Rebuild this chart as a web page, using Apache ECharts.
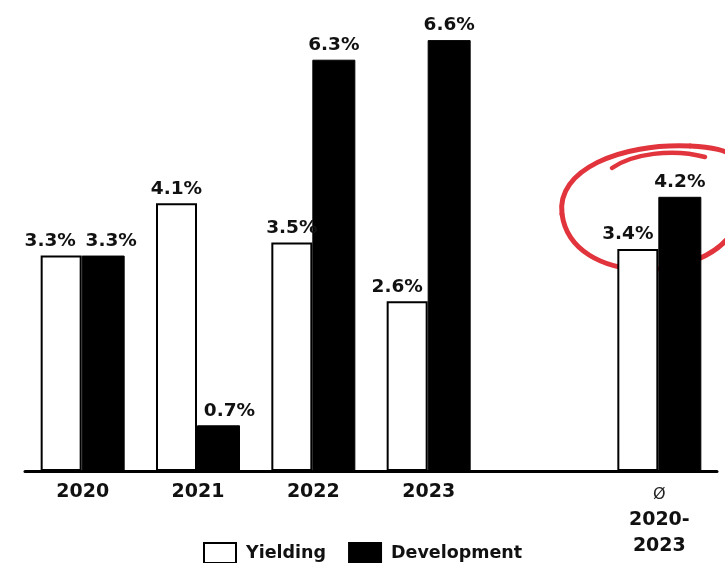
<!DOCTYPE html>
<html>
<head>
<meta charset="utf-8">
<script src="https://cdn.jsdelivr.net/npm/echarts@6/dist/echarts.min.js"></script>
<style>
  html, body { margin: 0; padding: 0; background: #fff; }
  #chart { width: 725px; height: 563px; }
</style>
</head>
<body>
<div id="chart"></div>
<script>
// Yield growth by year, plus the 2020-2023 average
const categories = ['2020', '2021', '2022', '2023', '', 'Ø\n2020-\n2023'];
const yielding = [3.3, 4.1, 3.5, 2.6, '-', 3.4];
const development = [3.3, 0.7, 6.3, 6.6, '-', 4.2];
const seriesNames = ['Yielding', 'Development'];

const FONT = '"DejaVu Sans", sans-serif';

const chart = echarts.init(document.getElementById('chart'), null, { renderer: 'canvas' });

const labelStyle = {
  show: true,
  position: 'top',
  distance: 5,
  formatter: p => p.value.toFixed(1) + '%',
  color: '#111',
  fontFamily: FONT,
  fontSize: 18.5,
  fontWeight: 'bold'
};

// value labels that would crowd a neighbouring bar are nudged sideways
function withNudge(values, nudges) {
  return values.map((v, i) => {
    if (v === '-' || !nudges[i]) return v;
    return { value: v, label: { offset: [nudges[i], 0] } };
  });
}

const loopStyle = { stroke: '#e2343c', lineWidth: 5, fill: null, lineCap: 'round' };

chart.setOption({
  animation: false,
  backgroundColor: '#fff',
  grid: { left: 25, right: 8, top: 14, bottom: 92, containLabel: false },
  legend: {
    left: 203,
    top: 542,
    padding: 0,
    itemWidth: 32,
    itemHeight: 20,
    itemGap: 22,
    icon: 'rect',
    textStyle: {
      color: '#111',
      fontFamily: FONT,
      fontSize: 17.5,
      fontWeight: 'bold',
      padding: [0, 0, 0, 5]
    },
    data: seriesNames
  },
  xAxis: {
    type: 'category',
    data: categories,
    axisLine: { show: true, lineStyle: { color: '#000', width: 3 } },
    axisTick: { show: false },
    axisLabel: {
      interval: 0,
      margin: 12,
      color: '#111',
      fontFamily: FONT,
      fontSize: 19,
      fontWeight: 'bold',
      formatter: v => {
        const lines = v.split('\n');
        if (lines.length > 1) {
          return '{sym|' + lines[0] + '}\n' + lines.slice(1).map(l => '{yr|' + l + '}').join('\n');
        }
        return v;
      },
      rich: {
        sym: { fontFamily: FONT, fontSize: 16, fontWeight: 'normal', color: '#222', lineHeight: 24 },
        yr: { fontFamily: FONT, fontSize: 19, fontWeight: 'bold', color: '#111', lineHeight: 26 }
      }
    }
  },
  yAxis: {
    type: 'value',
    min: 0,
    max: 7,
    show: false,
    splitLine: { show: false }
  },
  series: [
    {
      name: seriesNames[0],
      type: 'bar',
      data: withNudge(yielding, [-11, 0, 0, -10, 0, -10]),
      barWidth: 41,
      barGap: '0%',
      itemStyle: { color: '#fff', borderColor: '#000', borderWidth: 2 },
      label: labelStyle
    },
    {
      name: seriesNames[1],
      type: 'bar',
      data: withNudge(development, [8, 11, 0, 0, 0, 0]),
      barWidth: 43,
      barGap: '0%',
      itemStyle: { color: '#000', borderColor: '#000', borderWidth: 1 },
      label: labelStyle
    }
  ],
  graphic: [
    // hand-drawn red loop highlighting the average
    {
      type: 'group',
      silent: true,
      children: [
        { type: 'bezierCurve', shape: { x1: 736, y1: 226, cpx1: 708, cpy1: 284, cpx2: 572, cpy2: 288, x2: 562, y2: 214 },
          style: loopStyle },
        { type: 'bezierCurve', shape: { x1: 562, y1: 214, cpx1: 556, cpy1: 170, cpx2: 620, cpy2: 143, x2: 690, y2: 146 },
          style: loopStyle },
        { type: 'bezierCurve', shape: { x1: 690, y1: 146, cpx1: 712, cpy1: 147, cpx2: 726, cpy2: 150, x2: 738, y2: 158 },
          style: loopStyle },
        { type: 'bezierCurve', shape: { x1: 612, y1: 168, cpx1: 632, cpy1: 154, cpx2: 672, cpy2: 148, x2: 705, y2: 157 },
          style: Object.assign({}, loopStyle, { lineWidth: 4.5 }) }
      ]
    }
  ]
});
</script>
</body>
</html>
